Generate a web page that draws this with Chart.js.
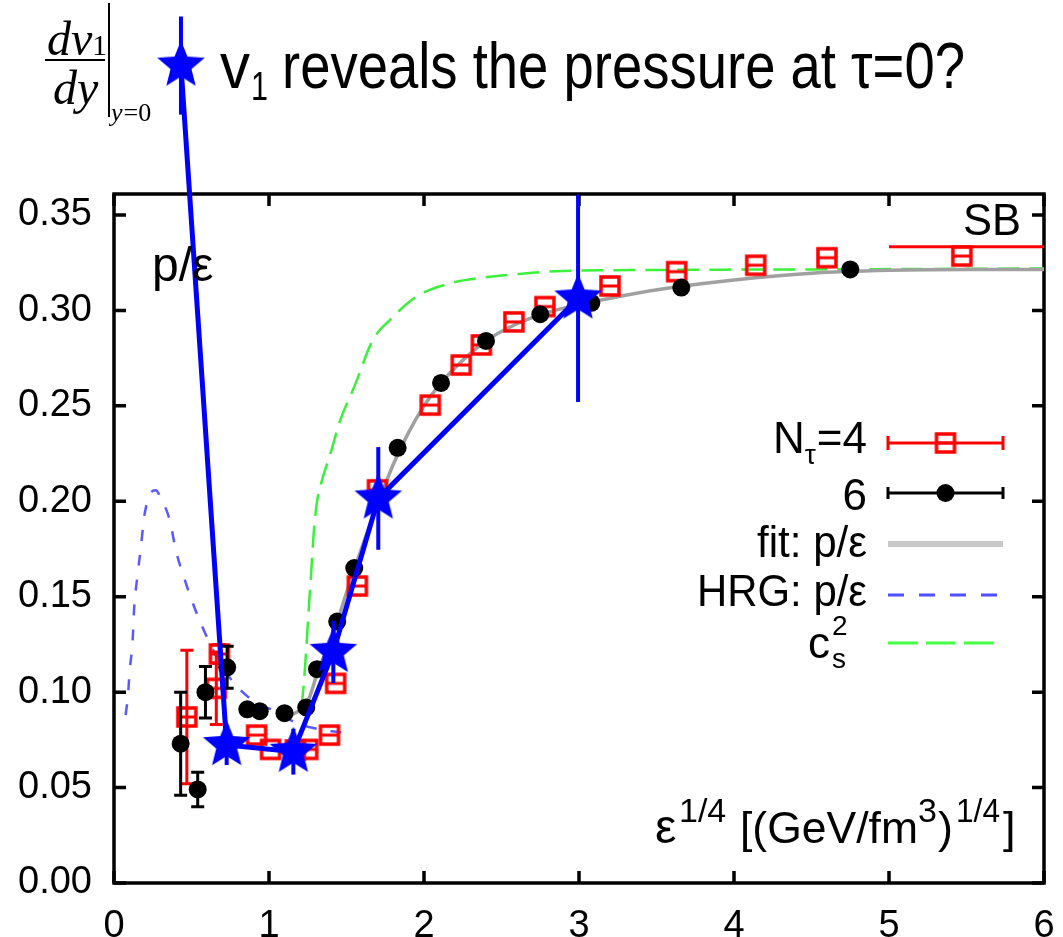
<!DOCTYPE html>
<html>
<head>
<meta charset="utf-8">
<script src="https://cdn.jsdelivr.net/npm/chart.js@4.4.1/dist/chart.umd.min.js"></script>
<style>
html,body{margin:0;padding:0;background:#fff;}
#c{display:block;}
</style>
</head>
<body>
<canvas id="c" width="1063" height="937"></canvas>
<script>
// ---- data ----
const xTicks = [0, 1, 2, 3, 4, 5, 6];
const yTicks = [0.00, 0.05, 0.10, 0.15, 0.20, 0.25, 0.30, 0.35];

// N_tau = 6 (black dots)
const nt6X   = [0.43, 0.54, 0.59, 0.73, 0.86, 0.94, 1.10, 1.24, 1.31, 1.44, 1.55, 1.83, 2.11, 2.40, 2.75, 3.08, 3.66, 4.75];
const nt6Y   = [0.073, 0.049, 0.100, 0.113, 0.091, 0.090, 0.089, 0.092, 0.112, 0.137, 0.165, 0.228, 0.262, 0.284, 0.298, 0.304, 0.312, 0.3215];
const nt6Err = [0.027, 0.009, 0.0135, 0.011, 0, 0, 0, 0, 0, 0, 0, 0, 0, 0, 0, 0, 0, 0];

// N_tau = 4 (red open squares)
const nt4X   = [0.47, 0.66, 0.68, 0.92, 1.01, 1.17, 1.25, 1.39, 1.43, 1.57, 1.70, 2.04, 2.24, 2.37, 2.58, 2.78, 3.20, 3.63, 4.14, 4.60, 5.47];
const nt4Y   = [0.087, 0.102, 0.120, 0.0775, 0.070, 0.0697, 0.070, 0.0775, 0.1046, 0.1556, 0.206, 0.2504, 0.2714, 0.2819, 0.294, 0.302, 0.3128, 0.3203, 0.3237, 0.3276, 0.3285];
const nt4Err = [0.035, 0.019, 0.005, 0, 0, 0, 0, 0, 0, 0, 0, 0, 0, 0, 0, 0, 0, 0, 0, 0, 0];

// fit: p/eps (grey)
const fitX = [1.15, 1.25, 1.32, 1.40, 1.50, 1.60, 1.70, 1.80, 1.90, 2.00, 2.10, 2.20, 2.40, 2.60, 2.80, 3.00, 3.30, 3.60, 4.00, 4.50, 5.00, 5.50, 6.00];
const fitY = [0.088, 0.095, 0.112, 0.127, 0.152, 0.176, 0.198, 0.219, 0.236, 0.250, 0.261, 0.270, 0.284, 0.293, 0.299, 0.303, 0.308, 0.312, 0.316, 0.3195, 0.3210, 0.3215, 0.3215];

// HRG: p/eps (blue dashed)
const hrgX = [0.075, 0.09, 0.10, 0.12, 0.13, 0.15, 0.175, 0.195, 0.22, 0.25, 0.27, 0.30, 0.36, 0.40, 0.46, 0.53, 0.61, 0.70, 0.83, 0.95, 1.03, 1.18, 1.30, 1.40, 1.47];
const hrgY = [0.088, 0.098, 0.110, 0.127, 0.144, 0.160, 0.177, 0.192, 0.201, 0.2055, 0.2058, 0.202, 0.190, 0.174, 0.158, 0.142, 0.127, 0.113, 0.100, 0.093, 0.0905, 0.0837, 0.0810, 0.0795, 0.0790];

// c_s^2 (green dashed)
const csX = [1.21, 1.225, 1.24, 1.255, 1.27, 1.29, 1.31, 1.335, 1.40, 1.46, 1.55, 1.67, 1.78, 1.95, 2.17, 2.38, 2.60, 2.85, 3.50, 4.50, 6.00];
const csY = [0.092, 0.105, 0.122, 0.142, 0.160, 0.185, 0.200, 0.209, 0.226, 0.2426, 0.260, 0.2845, 0.295, 0.3072, 0.3142, 0.3172, 0.319, 0.3205, 0.3212, 0.3215, 0.322];

// Stefan-Boltzmann limit
const sbX = [5.0, 6.0];
const sbY = [0.3333, 0.3333];

// dv1/dy stars (blue)
const v1X   = [0.432, 0.727, 1.157, 1.415, 1.705, 2.994];
const v1Y   = [0.4283, 0.0723, 0.0688, 0.1211, 0.2015, 0.3063];
const v1Err = [0.0257, 0.0105, 0.012, 0.0163, 0.0269, 0.0543];

const pts = (xs, ys) => xs.map((x, i) => ({x: x, y: ys[i]}));

// ---- marker images ----
function makeStar(R, r, color) {
  const s = Math.ceil(2 * R + 4);
  const c = document.createElement('canvas');
  c.width = s; c.height = s;
  const g = c.getContext('2d');
  g.fillStyle = color;
  g.beginPath();
  for (let i = 0; i < 10; i++) {
    const a = -Math.PI / 2 + i * Math.PI / 5;
    const rr = (i % 2) ? r : R;
    g.lineTo(s / 2 + rr * Math.cos(a), s / 2 + rr * Math.sin(a));
  }
  g.closePath();
  g.fill();
  return c;
}
function makeSquare(color) {
  const c = document.createElement('canvas');
  c.width = 24; c.height = 24;
  const g = c.getContext('2d');
  g.strokeStyle = color; g.fillStyle = color;
  g.lineWidth = 3.5;
  g.strokeRect(3, 3, 18, 18);
  g.fillRect(3, 10.5, 18, 3);
  return c;
}
const starImg = makeStar(25, 11, '#0000ff');
const sqImg = makeSquare('#ff0000');

const SANS = '"Liberation Sans", Arial, Helvetica, sans-serif';
const NARROW = '"Liberation Sans Narrow", "Arial Narrow", "Liberation Sans", Arial, sans-serif';
const SERIF = '"Liberation Serif", "Times New Roman", serif';

// ---- plugins ----
const errPlugin = {
  id: 'errbars',
  beforeDatasetDraw(chart, args) {
    const ds = chart.data.datasets[args.index];
    if (!ds.errY) return;
    const ctx = chart.ctx, xs = chart.scales.x, ys = chart.scales.y;
    ctx.save();
    ctx.strokeStyle = ds.errColor;
    ctx.lineWidth = ds.errWidth;
    ds.data.forEach((p, i) => {
      const e = ds.errY[i];
      if (!e) return;
      const px = xs.getPixelForValue(p.x);
      const y1 = ys.getPixelForValue(p.y + e);
      const y2 = ys.getPixelForValue(p.y - e);
      ctx.beginPath();
      ctx.moveTo(px, y1); ctx.lineTo(px, y2);
      if (ds.capW) {
        ctx.moveTo(px - ds.capW / 2, y1); ctx.lineTo(px + ds.capW / 2, y1);
        ctx.moveTo(px - ds.capW / 2, y2); ctx.lineTo(px + ds.capW / 2, y2);
      }
      ctx.stroke();
    });
    ctx.restore();
  },
  afterDatasetDraw(chart, args) {
    // markers that lie outside the plot frame (Chart.js skips them)
    const ds = chart.data.datasets[args.index];
    if (!ds.drawOutside) return;
    const a = chart.chartArea, ctx = chart.ctx, img = ds.pointStyle;
    args.meta.data.forEach(el => {
      if (el.y < a.top || el.y > a.bottom || el.x < a.left || el.x > a.right) {
        ctx.drawImage(img, el.x - img.width / 2, el.y - img.height / 2);
      }
    });
  }
};

const framePlugin = {
  id: 'frame',
  beforeDatasetsDraw(chart) {
    const ctx = chart.ctx, a = chart.chartArea, xs = chart.scales.x, ys = chart.scales.y;
    ctx.save();
    ctx.strokeStyle = '#000';
    ctx.lineWidth = 3.5;
    ctx.strokeRect(a.left, a.top, a.right - a.left, a.bottom - a.top);
    const TL = 12;
    ctx.beginPath();
    xTicks.forEach(v => {
      const px = xs.getPixelForValue(v);
      ctx.moveTo(px, a.bottom); ctx.lineTo(px, a.bottom - TL);
      ctx.moveTo(px, a.top); ctx.lineTo(px, a.top + TL);
    });
    yTicks.forEach(v => {
      const py = ys.getPixelForValue(v);
      ctx.moveTo(a.left, py); ctx.lineTo(a.left + TL, py);
      ctx.moveTo(a.right, py); ctx.lineTo(a.right - TL, py);
    });
    ctx.stroke();
    ctx.restore();
  }
};

const textPlugin = {
  id: 'texts',
  afterDraw(chart) {
    const ctx = chart.ctx;
    ctx.save();
    ctx.fillStyle = '#000';
    ctx.textBaseline = 'alphabetic';
    ctx.textAlign = 'left';

    // math: dv1/dy |_{y=0}
    ctx.font = 'italic 48px ' + SERIF;
    ctx.fillText('dv', 47, 55);
    ctx.font = '30px ' + SERIF;
    ctx.fillText('1', 92, 55);
    ctx.fillRect(45, 59, 60, 2);
    ctx.font = 'italic 48px ' + SERIF;
    ctx.fillText('dy', 53, 104);
    ctx.fillRect(108, 3, 2, 114);
    ctx.font = 'italic 26px ' + SERIF;
    ctx.fillText('y', 111, 121);
    const wy = ctx.measureText('y').width;
    ctx.font = '26px ' + SERIF;
    ctx.fillText('=0', 111 + wy + 1, 121);

    // headline
    ctx.font = '64px ' + NARROW;
    ctx.fillText('v', 220, 88, 30);
    ctx.font = '40px ' + NARROW;
    ctx.fillText('1', 251, 100, 17);
    ctx.font = '64px ' + NARROW;
    ctx.fillText('reveals the pressure at \u03c4=0?', 282, 88, 683);

    // p/eps label
    ctx.font = '48px ' + SANS;
    ctx.fillText('p/\u03b5', 152, 281, 66);

    // SB
    ctx.textAlign = 'right';
    ctx.font = '44px ' + SANS;
    ctx.fillText('SB', 1021, 235, 58);

    // legend
    ctx.font = '44px ' + NARROW;
    ctx.fillText('=4', 867, 453, 58);
    const w4 = Math.min(ctx.measureText('=4').width, 58);
    ctx.font = '28px ' + NARROW;
    ctx.fillText('\u03c4', 867 - w4 - 1, 464);
    const wt = ctx.measureText('\u03c4').width;
    ctx.font = '44px ' + NARROW;
    ctx.fillText('N', 867 - w4 - wt - 1, 453);
    ctx.fillText('6', 867, 510);
    ctx.fillText('fit: p/\u03b5', 867, 557, 110);
    ctx.fillText('HRG: p/\u03b5', 867, 606, 170);
    ctx.font = '44px ' + NARROW;
    ctx.fillText('c', 830, 658);
    ctx.font = '28px ' + NARROW;
    ctx.textAlign = 'left';
    ctx.fillText('2', 832, 635);
    ctx.fillText('s', 832, 668);

    // legend samples
    const L0 = 888, L1 = 1003, LM = 945.5;
    ctx.strokeStyle = '#ff0000'; ctx.lineWidth = 3;
    ctx.beginPath();
    ctx.moveTo(L0, 443); ctx.lineTo(L1, 443);
    ctx.moveTo(L0, 436); ctx.lineTo(L0, 450);
    ctx.moveTo(L1, 436); ctx.lineTo(L1, 450);
    ctx.stroke();
    ctx.drawImage(sqImg, LM - 12, 443 - 12);
    ctx.strokeStyle = '#000'; ctx.lineWidth = 3;
    ctx.beginPath();
    ctx.moveTo(L0, 493); ctx.lineTo(L1, 493);
    ctx.moveTo(L0, 487); ctx.lineTo(L0, 499);
    ctx.moveTo(L1, 487); ctx.lineTo(L1, 499);
    ctx.stroke();
    ctx.fillStyle = '#000';
    ctx.beginPath(); ctx.arc(LM, 493, 9, 0, Math.PI * 2); ctx.fill();
    ctx.strokeStyle = '#c8c8c8'; ctx.lineWidth = 6;
    ctx.beginPath(); ctx.moveTo(L0, 544); ctx.lineTo(L1, 544); ctx.stroke();
    ctx.strokeStyle = '#4f4fff'; ctx.lineWidth = 3;
    ctx.setLineDash([16, 15]);
    ctx.beginPath(); ctx.moveTo(L0, 595); ctx.lineTo(L1, 595); ctx.stroke();
    ctx.strokeStyle = '#44ff44'; ctx.lineWidth = 3;
    ctx.setLineDash([29, 9]);
    ctx.beginPath(); ctx.moveTo(L0, 643); ctx.lineTo(L1 - 8, 643); ctx.stroke();
    ctx.setLineDash([]);

    // x axis title
    ctx.fillStyle = '#000';
    ctx.textAlign = 'left';
    ctx.font = '48px ' + SANS;
    ctx.fillText('\u03b5', 655, 843);
    ctx.font = '34px ' + SANS;
    ctx.fillText('1/4', 679, 822, 48);
    ctx.font = '45px ' + SANS;
    ctx.fillText('[(GeV/fm', 740, 843, 178);
    ctx.font = '34px ' + SANS;
    ctx.fillText('3', 918, 822);
    ctx.font = '45px ' + SANS;
    ctx.fillText(')', 938, 843);
    ctx.font = '34px ' + SANS;
    ctx.fillText('1/4', 956, 822, 44);
    ctx.font = '45px ' + SANS;
    ctx.fillText(']', 1003, 843);
    ctx.restore();
  }
};

// ---- chart ----
const ctx = document.getElementById('c').getContext('2d');
new Chart(ctx, {
  type: 'scatter',
  data: {
    datasets: [
      {
        label: 'v1', data: pts(v1X, v1Y), showLine: true,
        borderColor: '#0000ff', borderWidth: 5, tension: 0,
        pointStyle: starImg, backgroundColor: '#0000ff',
        errY: v1Err, errColor: '#0000ff', errWidth: 4, capW: 0,
        clip: false, drawOutside: true
      },
      {
        label: '6', data: pts(nt6X, nt6Y), showLine: false,
        pointStyle: 'circle', pointRadius: 9, backgroundColor: '#000', borderWidth: 0,
        errY: nt6Err, errColor: '#000', errWidth: 3, capW: 13
      },
      {
        label: 'Nt=4', data: pts(nt4X, nt4Y), showLine: false,
        pointStyle: sqImg, backgroundColor: '#ff0000', borderWidth: 0,
        errY: nt4Err, errColor: '#ff0000', errWidth: 3, capW: 13
      },
      {
        label: 'SB', data: pts(sbX, sbY), showLine: true,
        borderColor: '#ff0000', borderWidth: 3, pointRadius: 0, clip: false
      },
      {
        label: 'fit', data: pts(fitX, fitY), showLine: true,
        borderColor: '#a0a0a0', borderWidth: 3.5, pointRadius: 0, cubicInterpolationMode: 'monotone'
      },
      {
        label: 'cs2', data: pts(csX, csY), showLine: true,
        borderColor: '#3cf03c', borderWidth: 2.5, borderDash: [22, 10], pointRadius: 0, cubicInterpolationMode: 'monotone'
      },
      {
        label: 'HRG', data: pts(hrgX, hrgY), showLine: true,
        borderColor: 'rgba(60,60,255,0.85)', borderWidth: 2.5, borderDash: [11, 14], pointRadius: 0, cubicInterpolationMode: 'monotone'
      }
    ]
  },
  options: {
    responsive: false,
    animation: false,
    devicePixelRatio: 1,
    events: [],
    layout: { padding: { top: 194, right: 19, left: 0, bottom: 0 } },
    plugins: { legend: { display: false }, tooltip: { enabled: false } },
    scales: {
      x: {
        type: 'linear', min: 0, max: 6,
        afterFit(s) { s.height = 54; s.paddingLeft = 0; s.paddingRight = 0; },
        afterBuildTicks(s) { s.ticks = xTicks.map(v => ({ value: v })); },
        grid: { display: false, drawTicks: false },
        border: { display: false },
        ticks: {
          padding: 21, color: '#000', maxRotation: 0, autoSkip: false,
          font: { family: SANS, size: 38 },
          callback: v => String(v)
        }
      },
      y: {
        type: 'linear', min: 0, max: 0.361,
        afterFit(s) { s.width = 114; s.paddingTop = 0; s.paddingBottom = 0; },
        afterBuildTicks(s) { s.ticks = yTicks.map(v => ({ value: v })); },
        grid: { display: false, drawTicks: false },
        border: { display: false },
        ticks: {
          padding: 22, color: '#000', autoSkip: false,
          font: { family: SANS, size: 38 },
          callback: v => Number(v).toFixed(2)
        }
      }
    }
  },
  plugins: [errPlugin, framePlugin, textPlugin]
});
</script>
</body>
</html>
